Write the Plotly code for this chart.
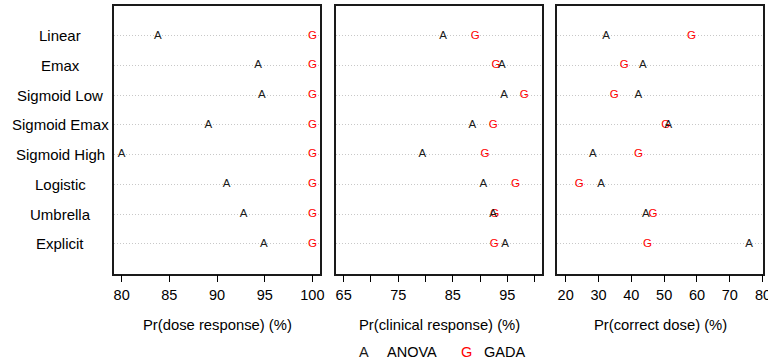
import plotly.graph_objects as go

# Simulation scenarios (top to bottom)
models = ["Linear", "Emax", "Sigmoid Low", "Sigmoid Emax",
          "Sigmoid High", "Logistic", "Umbrella", "Explicit"]

# Pr(dose response) (%)
dose_anova = [83.8, 94.3, 94.7, 89.1, 80.0, 91.0, 92.8, 94.9]
dose_gada = [100.0, 100.0, 100.0, 100.0, 100.0, 100.0, 100.0, 100.0]

# Pr(clinical response) (%)
clin_anova = [83.2, 94.0, 94.4, 88.6, 79.4, 90.6, 92.4, 94.6]
clin_gada = [89.1, 92.9, 98.1, 92.4, 90.9, 96.5, 92.7, 92.6]

# Pr(correct dose) (%)
corr_anova = [32.3, 43.5, 42.1, 51.3, 28.3, 30.8, 44.4, 75.9]
corr_gada = [58.3, 37.8, 34.8, 50.5, 42.2, 24.1, 46.6, 44.9]

panel_titles = ["Pr(dose response) (%)", "Pr(clinical response) (%)",
                "Pr(correct dose) (%)"]
tick_vals = [[80, 85, 90, 95, 100],
             [65, 70, 75, 80, 85, 90, 95, 100],
             [20, 30, 40, 50, 60, 70, 80]]
tick_text = [["80", "85", "90", "95", "100"],
             ["65", "", "75", "", "85", "", "95", ""],
             ["20", "30", "40", "50", "60", "70", ""]]
x_ranges = [[79.2, 100.8], [63.6, 101.4], [17.45, 80.2]]

W, H = 768, 363
FONT = "Liberation Sans"
n = len(models)
rows = [n - i for i in range(n)]  # Linear at the top

panels_px = [(114, 320), (336, 542.3), (557.3, 763.3)]
y_dom = [1 - 273.5 / H, 1 - 6 / H]

fig = go.Figure()
series = [(dose_anova, dose_gada), (clin_anova, clin_gada), (corr_anova, corr_gada)]
for k, (anova, gada) in enumerate(series):
    xa = "x" if k == 0 else f"x{k+1}"
    ya = "y" if k == 0 else f"y{k+1}"
    fig.add_trace(go.Scatter(x=gada, y=rows, mode="text", text=["G"] * n,
                             textfont=dict(family=FONT, size=11.5, color="#ff0000"),
                             xaxis=xa, yaxis=ya, showlegend=False, hoverinfo="skip",
                             cliponaxis=False))
    fig.add_trace(go.Scatter(x=anova, y=rows, mode="text", text=["A"] * n,
                             textfont=dict(family=FONT, size=11.5, color="#1a1a1a"),
                             xaxis=xa, yaxis=ya, showlegend=False, hoverinfo="skip",
                             cliponaxis=False))

layout = dict(width=W, height=H,
              margin=dict(l=0, r=0, t=0, b=0, autoexpand=False),
              paper_bgcolor="white", plot_bgcolor="white", showlegend=False,
              font=dict(family=FONT, size=14, color="black"))
for k in range(3):
    sx = "" if k == 0 else str(k + 1)
    x0, x1 = panels_px[k]
    layout[f"xaxis{sx}"] = dict(
        domain=[x0 / W, x1 / W], range=x_ranges[k], anchor=f"y{sx}",
        tickvals=tick_vals[k], ticktext=tick_text[k], automargin=False,
        ticks="outside", ticklen=7, tickwidth=1, tickcolor="black",
        showline=True, linecolor="#1a1a1a", linewidth=1.5, mirror=True,
        showgrid=False, zeroline=False,
        tickfont=dict(family=FONT, size=14.5, color="black"))
    layout[f"yaxis{sx}"] = dict(
        domain=y_dom, range=[0, n + 1], anchor=f"x{sx}", automargin=False,
        tickvals=rows, showticklabels=False, ticks="",
        showgrid=True, gridcolor="#c8c8c8", griddash="1px,2px", gridwidth=1,
        showline=True, linecolor="#1a1a1a", linewidth=1.5, mirror=True,
        zeroline=False)
fig.update_layout(**layout)

# Last tick label of the right panel runs past the page edge
fig.add_annotation(x=80, y=1 - 294.5 / H, xref="x3", yref="paper", text="80",
                   showarrow=False, xanchor="center", yanchor="middle",
                   font=dict(family=FONT, size=14.5, color="black"))

# Scenario labels on the left
for name, r in zip(models, rows):
    fig.add_annotation(x=60 / W, y=r, xref="paper", yref="y", text=name,
                       showarrow=False, xanchor="center", yanchor="middle",
                       font=dict(family=FONT, size=15, color="black"))

# Panel axis titles
for k, title in enumerate(panel_titles):
    x0, x1 = panels_px[k]
    fig.add_annotation(x=(x0 + x1) / 2 / W, y=1 - 325 / H, xref="paper", yref="paper",
                       text=title, showarrow=False, xanchor="center", yanchor="middle",
                       font=dict(family=FONT, size=14.8, color="black"))

# Legend
legend_items = [("A", "#1a1a1a", 364.3), ("ANOVA", "black", 411.7),
                ("G", "#ff0000", 466.7), ("GADA", "black", 504.8)]
for txt, col, px in legend_items:
    fig.add_annotation(x=px / W, y=1 - 351.5 / H, xref="paper", yref="paper",
                       text=txt, showarrow=False, xanchor="center", yanchor="middle",
                       font=dict(family=FONT, size=14.5, color=col))

fig.write_html("out.html")
